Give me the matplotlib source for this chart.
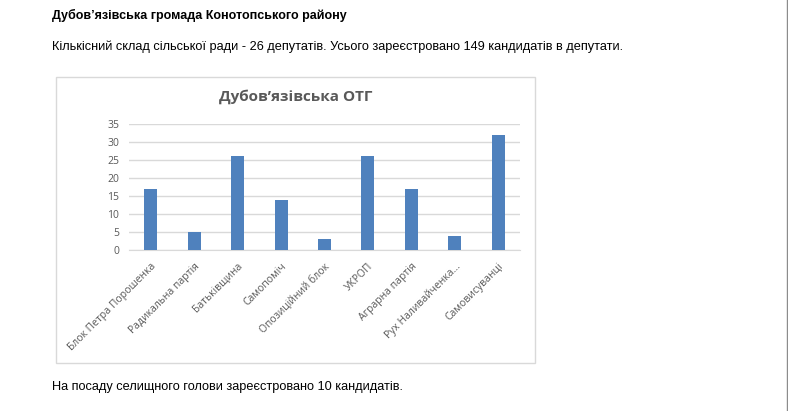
import matplotlib
matplotlib.use("Agg")
import matplotlib.pyplot as plt
from matplotlib.patches import Rectangle
from matplotlib.lines import Line2D

categories = ["Блок Петра Порошенка", "Радикальна партія", "Батьківщина", "Самопоміч",
              "Опозиційний блок", "УКРОП", "Аграрна партія", "Рух Наливайченка...", "Самовисуванці"]
values = [17, 5, 26, 14, 3, 26, 17, 4, 32]
yticks = [0, 5, 10, 15, 20, 25, 30, 35]

heading = "Дубов’язівська громада Конотопського району"
para1 = "Кількісний склад сільської ради - 26 депутатів. Усього зареєстровано 149 кандидатів в депутати."
para2 = "На посаду селищного голови зареєстровано 10 кандидатів."
chart_title = "Дубов’язівська ОТГ"

W, H = 788, 411
fig = plt.figure(figsize=(W / 100, H / 100), dpi=100)
fig.patch.set_facecolor("white")

def fx(px):
    return px / W

def fy(py):
    return 1 - py / H

doc_font = ["Liberation Sans", "DejaVu Sans"]
chart_font = ["Open Sans", "DejaVu Sans"]

fig.text(fx(52), fy(15), heading, fontsize=9, fontweight="bold", family=doc_font,
         va="center", ha="left", color="black")
fig.text(fx(52), fy(47), para1, fontsize=9.15, family=doc_font, va="center", ha="left", color="black")
fig.text(fx(52), fy(387), para2, fontsize=9.15, family=doc_font, va="center", ha="left", color="black")

# right page edge line
fig.add_artist(Line2D([fx(787), fx(787)], [0, 1], transform=fig.transFigure, color="#8c8c8c", lw=1))

# chart border
fig.add_artist(Rectangle((fx(56), fy(363)), fx(535) - fx(56), fy(77) - fy(363),
                         transform=fig.transFigure, fill=False, edgecolor="#d9d9d9", lw=1))

fig.text(fx(295.5), fy(97), chart_title, fontsize=11, fontweight="bold", family=chart_font,
         color="#595959", ha="center", va="center")

ax = fig.add_axes([fx(129), fy(250), fx(520) - fx(129), fy(124) - fy(250)])
x = list(range(len(categories)))
ax.bar(x, values, width=0.3, color="#4f81bd", zorder=3)
ax.set_xlim(-0.5, len(categories) - 0.5)
ax.set_ylim(0, 35)
ax.set_yticks(yticks)
ax.set_yticklabels([str(t) for t in yticks], fontsize=7.5, color="#595959", family=chart_font)
ax.set_xticks(x)
ax.set_xticklabels(categories, rotation=45, ha="right", va="top", rotation_mode="anchor",
                   fontsize=7.5, color="#595959", family=chart_font)
ax.tick_params(axis="both", length=0)
ax.tick_params(axis="x", pad=8)
ax.tick_params(axis="y", pad=7)
ax.grid(axis="y", color="#d9d9d9", lw=1, zorder=0)
for s in ["top", "right", "left"]:
    ax.spines[s].set_visible(False)
ax.spines["bottom"].set_color("#d9d9d9")
ax.set_facecolor("none")

fig.savefig("out.png", dpi=100, facecolor="white")
